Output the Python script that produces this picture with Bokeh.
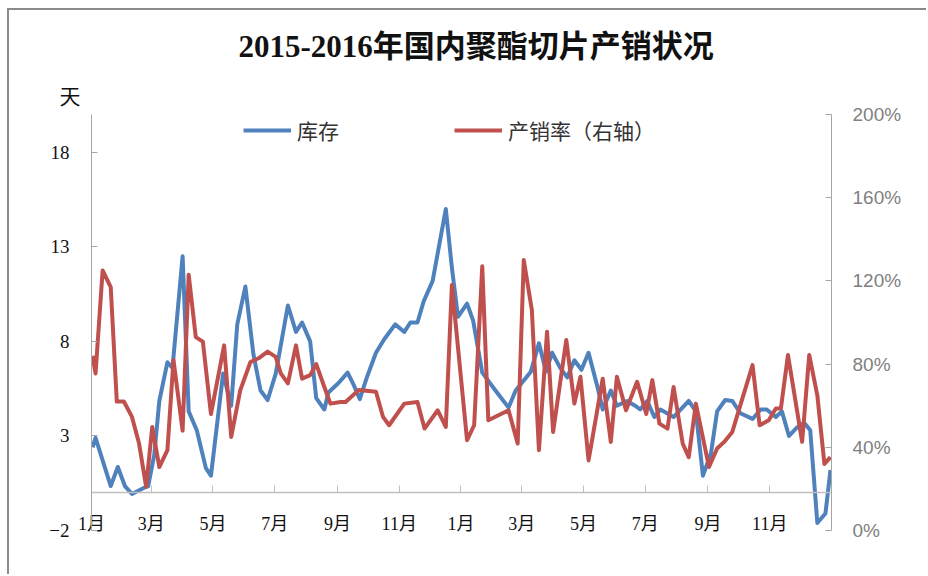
import pandas as pd
from bokeh.plotting import figure
from bokeh.models import (Range1d, LinearAxis, FixedTicker, PrintfTickFormatter,
                          Title, Legend, LegendItem)
from bokeh.embed import file_html
from bokeh.resources import INLINE

title_text = "2015-2016年国内聚酯切片产销状况"
left_unit = "天"
start_date = "2015-01-01"
end_date = "2017-01-01"

# 库存 (days) : day offset since 2015-01-01 and value
inv_day = [1, 4, 19, 26, 33, 40, 52, 56, 62, 67,
           75, 80, 90, 96, 104, 113, 118, 130, 138, 144,
           152, 160, 167, 174, 182, 194, 202, 208, 216, 222,
           230, 234, 244, 253, 259, 265, 272, 281, 289, 300,
           309, 315, 322, 328, 337, 350, 356, 362, 371, 377,
           386, 397, 412, 419, 434, 442, 449, 455, 463, 470,
           477, 484, 491, 500, 505, 513, 519, 529, 537, 542,
           549, 556, 562, 575, 590, 597, 604, 612, 618, 626,
           633, 641, 653, 661, 667, 676, 682, 689, 697, 704,
           710, 717, 725, 730]
inv_val = [2.4, 2.9, 0.35, 1.36, 0.35, -0.07, 0.26, 0.35, 2.0, 4.85,
           6.9, 6.6, 12.5, 4.3, 3.3, 1.3, 0.9, 6.3, 4.6, 8.9,
           10.9, 7.3, 5.4, 4.9, 6.3, 9.9, 8.5, 9.0, 8.0, 5.0,
           4.4, 5.3, 5.8, 6.35, 5.7, 4.95, 6.1, 7.4, 8.1, 8.9,
           8.5, 9.0, 9.0, 10.1, 11.2, 15.0, 11.9, 9.3, 10.0, 9.1,
           6.35, 5.55, 4.5, 5.4, 6.4, 7.9, 6.4, 7.4, 6.6, 6.1,
           7.0, 6.5, 7.4, 5.55, 4.4, 5.4, 4.6, 4.85, 4.6, 4.4,
           4.85, 4.0, 4.4, 4.0, 4.85, 4.3, 0.9, 2.1, 4.3, 4.9,
           4.85, 4.2, 3.9, 4.4, 4.4, 4.0, 4.3, 3.0, 3.45, 3.7,
           3.3, -1.6, -1.1, 1.2]

# 产销率 (%) on right axis
ratio_day = [1, 4, 11, 19, 25, 32, 40, 47, 54, 60,
             67, 75, 81, 90, 96, 103, 110, 118, 131, 138,
             147, 157, 165, 174, 182, 187, 194, 202, 208, 216,
             222, 230, 236, 246, 251, 264, 281, 288, 294, 309,
             322, 329, 342, 350, 356, 371, 378, 386, 392, 412,
             421, 427, 435, 442, 450, 456, 469, 477, 483, 491,
             505, 513, 519, 528, 539, 548, 554, 561, 569, 575,
             584, 590, 597, 610, 618, 625, 633, 643, 653, 660,
             669, 676, 681, 688, 702, 709, 717, 724, 730]
ratio_pct = [84, 75.5, 125, 117, 62, 62, 54.6, 41.8, 21, 49.8,
             30.5, 38.6, 82, 48, 123, 93, 90.8, 56, 89, 45,
             67.5, 81, 82.8, 86, 83.5, 75.5, 70.7, 89, 73, 74.7,
             80, 69, 61, 61.8, 61.8, 67.5, 66.7, 54.6, 50.6, 61,
             61.8, 49, 57.8, 49.8, 118, 43.4, 50.6, 127, 53, 57.8,
             41.8, 130, 106, 38.6, 95.6, 47.4, 91.6, 61, 73.9, 33.7,
             73, 42.6, 73.9, 57.8, 71.5, 56, 72.3, 51.4, 49, 69,
             41.8, 35.3, 61, 30.5, 39.4, 42.6, 47.4, 63.5, 79.5, 50.6,
             53, 58.7, 58.7, 84.4, 42.6, 84.4, 65, 32, 35.3]

series_names = ["库存", "产销率（右轴）"]
left_ticks = [-2, 3, 8, 13, 18]
right_ticks = [0, 40, 80, 120, 160, 200]

assert len(inv_day) == len(inv_val) and len(ratio_day) == len(ratio_pct)

t0 = pd.Timestamp(start_date)
total_days = (pd.Timestamp(end_date) - t0).days
month_starts = pd.date_range(start_date, end_date, freq="2MS")
tick_days = [(d - t0).days for d in month_starts]
tick_labels = {td: f"{d.month}月" for td, d in zip(tick_days, month_starts)}
tick_labels[tick_days[-1]] = ""

SERIF = "'Liberation Serif', 'Noto Sans CJK SC'"
CJK = "'Noto Sans CJK SC'"

p = figure(width=919, height=566, output_backend="svg", toolbar_location=None, tools="",
           x_range=Range1d(0, total_days), y_range=Range1d(-2, 20), title=None,
           min_border_left=82, min_border_right=97, min_border_top=104, min_border_bottom=46)
p.styles = {"margin-left": "7px", "margin-top": "8px",
            "border-left": "2px solid #8a8a8a", "border-top": "2px solid #8a8a8a"}
p.outline_line_color = None
p.grid.visible = False
p.background_fill_color = "white"
p.border_fill_color = "white"
p.extra_y_ranges = {"right": Range1d(0, 200)}

# x axis line and ticks, crossing the left axis at 0
xa = p.xaxis[0]
xa.fixed_location = 0
xa.ticker = FixedTicker(ticks=tick_days)
xa.major_tick_in = 7
xa.major_tick_out = 0
xa.minor_tick_line_color = None
xa.axis_line_color = "#bfbfbf"
xa.axis_line_width = 1.5
xa.major_tick_line_color = "#bfbfbf"
xa.major_label_text_color = None

# x tick labels (separate axis so they are not clipped at the frame edge)
xl = LinearAxis(ticker=FixedTicker(ticks=tick_days), major_label_overrides=tick_labels)
xl.axis_line_color = None
xl.major_tick_line_color = None
xl.minor_tick_line_color = None
xl.major_tick_in = 0
xl.major_tick_out = 0
xl.major_label_standoff = -17
xl.major_label_text_font = SERIF
xl.major_label_text_font_size = "18px"
xl.major_label_text_color = "#111111"
p.add_layout(xl, "below")

ya = p.yaxis[0]
ya.ticker = FixedTicker(ticks=left_ticks)
ya.major_label_overrides = {-2: "\u22122"}
ya.major_tick_in = 6
ya.major_tick_out = 0
ya.minor_tick_line_color = None
ya.axis_line_color = "#a6a6a6"
ya.major_tick_line_color = "#a6a6a6"
ya.major_label_standoff = 22
ya.major_label_text_font = SERIF
ya.major_label_text_font_size = "19px"
ya.major_label_text_color = "#111111"

ra = LinearAxis(y_range_name="right", ticker=FixedTicker(ticks=right_ticks),
                formatter=PrintfTickFormatter(format="%d%%"))
ra.major_tick_in = 6
ra.major_tick_out = 0
ra.minor_tick_line_color = None
ra.axis_line_color = "#a6a6a6"
ra.major_tick_line_color = "#a6a6a6"
ra.major_label_standoff = 21
ra.major_label_text_font = "'Liberation Sans Narrow', 'Liberation Sans'"
ra.major_label_text_font_size = "19px"
ra.major_label_text_color = "#7f7f7f"
p.add_layout(ra, "right")

r1 = p.line(inv_day, inv_val, line_color="#4f81bd", line_width=4, line_join="round")
r2 = p.line(ratio_day, ratio_pct, y_range_name="right", line_color="#c0504d",
            line_width=4, line_join="round")

legend = Legend(items=[LegendItem(label=series_names[0], renderers=[r1]),
                       LegendItem(label=series_names[1], renderers=[r2])],
                orientation="horizontal", location=(152, 385),
                padding=0, margin=0, spacing=115, label_standoff=6,
                glyph_width=48, glyph_height=20,
                border_line_color=None, background_fill_alpha=0,
                label_text_font=CJK, label_text_font_size="21px",
                label_text_color="#333333")
p.add_layout(legend)

p.add_layout(Title(text=left_unit, align="left", offset=-32, text_font=CJK,
                   text_font_size="21px", text_font_style="normal",
                   text_color="#111111", standoff=9), "above")
p.add_layout(Title(text=title_text, align="left", offset=147, text_font=SERIF,
                   text_font_size="31px", text_font_style="bold",
                   text_color="#111111", standoff=19), "above")

open("out.html", "w").write(file_html(p, INLINE))
